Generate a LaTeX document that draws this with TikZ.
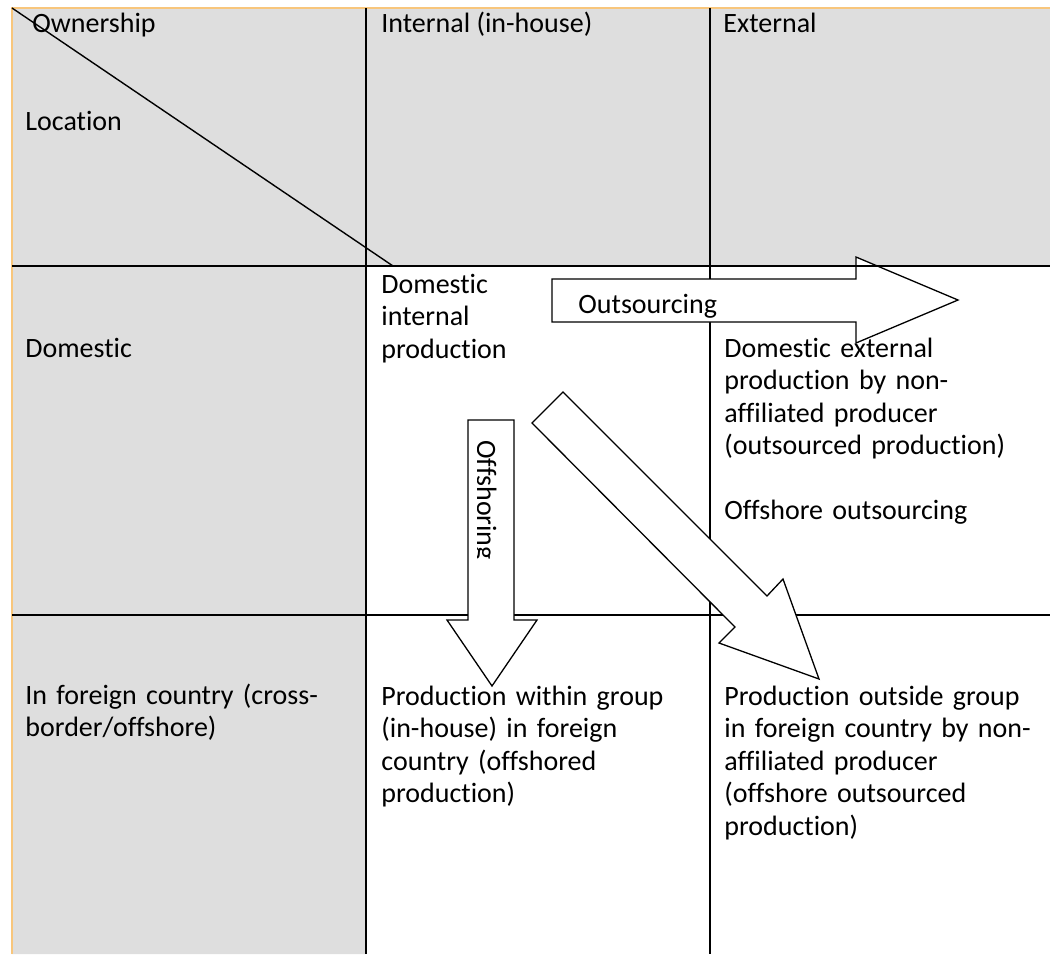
\documentclass[tikz,border=0pt]{standalone}
\usepackage{fontspec}
\setmainfont{Carlito}[Ligatures={NoCommon,NoRequired,NoContextual}]
\usetikzlibrary{calc,positioning}
\definecolor{cellgray}{HTML}{DEDEDE}
\definecolor{edgeorange}{HTML}{F8C67C}
\tikzset{txt/.style={anchor=base west,inner sep=0pt,font=\fontsize{14}{16.25}\selectfont},
cellpar/.style={txt,text width=170pt,align=left},
gline/.style={line width=1pt},
blk/.style={draw,fill=white,line width=0.65pt,line join=miter}}

\begin{document}
\begin{tikzpicture}[x=0.5pt,y=-0.5pt]
\useasboundingbox (0,0) rectangle (1050,954);
\fill[cellgray] (12,8) rectangle (366,954) (366,8) rectangle (1050,266);
\draw[edgeorange,line width=0.8pt] (12,954)--(12,8)--(1050,8);
\draw[gline] (366,8)--(366,954) (710,8)--(710,954) (12,615)--(1050,615);
\draw[line width=0.7pt] (12,8)--(393,266);
% block arrows
\draw[blk] (552,279)--(856,279)--(856,257)--(958,300)--(856,343)--(856,322)--(552,322)--cycle;
\draw[blk] (468,420)--(514,420)--(514,620)--(537,620)--(492,686)--(447,620)--(468,620)--cycle;
\draw[blk] (563,392)--(767,596)--(783,579)--(819,679)--(719,643)--(735,627)--(532,423)--cycle;
\draw[gline] (12,266)--(1050,266);
% header row and column
\node[txt] (own) at (32,32) {Ownership};
\node[txt] (loc) at (25,130) {Location};
\node[txt] (int) at (381,32) {Internal (in-house)};
\node[txt] (ext) at (723,32) {External};
\node[txt] (dom) at (25,357) {Domestic};
\node[cellpar] (abroad) at (25,704) {In foreign country (cross-\\border/offshore)};
% cells
\node[cellpar] (domint) at (381,293) {Domestic\\internal\\production};
\node[cellpar] (domext) at (724,357) {Domestic external\\production by non-\\affiliated producer\\(outsourced production)\\[16.25pt]Offshore outsourcing};
\node[cellpar] (abrint) at (381,705) {Production within group\\(in-house) in foreign\\country (offshored\\production)};
\node[cellpar] (abrext) at (724,705) {Production outside group\\in foreign country by non-\\affiliated producer\\(offshore outsourced\\production)};
\node[txt] (outs) at (578,313) {Outsourcing};
\begin{scope}
\clip (477,420) rectangle (514,620);
\node[txt,rotate=-90] (offs) at (477,440) {Offshoring};
\end{scope}
\end{tikzpicture}
\end{document}
